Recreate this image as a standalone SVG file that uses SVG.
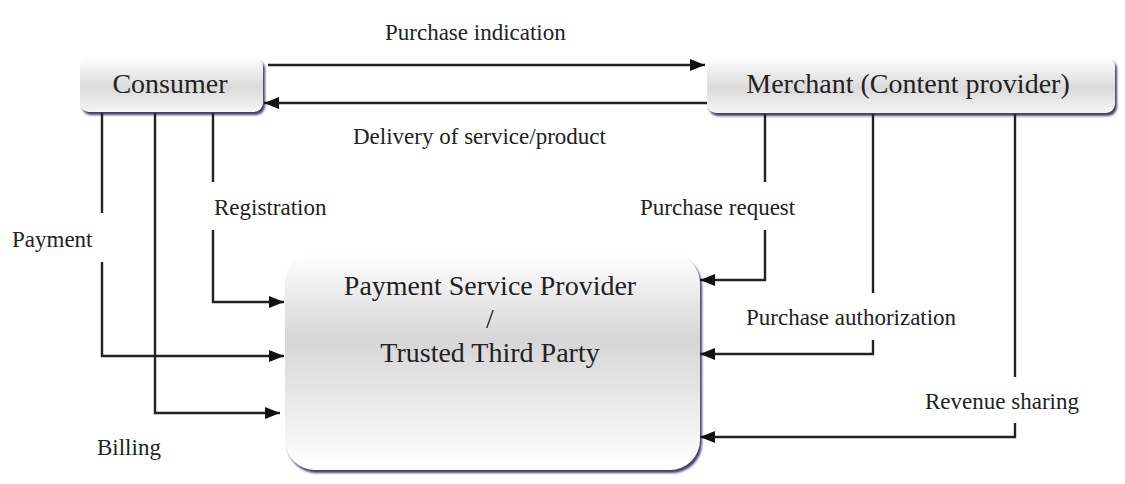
<svg xmlns="http://www.w3.org/2000/svg" width="1125" height="484" viewBox="0 0 1125 484">
  <defs>
    <linearGradient id="boxFill" x1="0" y1="0" x2="0" y2="1">
      <stop offset="0" stop-color="#ffffff"/>
      <stop offset="0.55" stop-color="#dadada"/>
      <stop offset="1" stop-color="#f6f6f6"/>
    </linearGradient>
    <linearGradient id="pspFill" x1="0" y1="0" x2="0" y2="1">
      <stop offset="0" stop-color="#ffffff"/>
      <stop offset="0.4" stop-color="#d6d6d6"/>
      <stop offset="0.75" stop-color="#eeeeee"/>
      <stop offset="1" stop-color="#ffffff"/>
    </linearGradient>
    <filter id="soft" x="-5%" y="-5%" width="110%" height="120%">
      <feGaussianBlur stdDeviation="0.8"/>
    </filter>
    <marker id="arrow" viewBox="0 0 15 12" refX="15" refY="6" markerWidth="15" markerHeight="12" markerUnits="userSpaceOnUse" orient="auto">
      <path d="M0,0 L15,6 L0,12 z" fill="#111"/>
    </marker>
  </defs>
  <style>
    text { font-family: "Liberation Serif", "Times New Roman", serif; fill: #222; }
    .node { font-size: 28px; text-anchor: middle; }
    .lbl { font-size: 23px; }
    .conn { fill: none; stroke: #222; stroke-width: 2.4; }
    .shadow { fill: #4a3d6a; filter: url(#soft); }
  </style>

  <rect width="1125" height="484" fill="#ffffff"/>

  <!-- Consumer -->
  <g id="consumer">
    <rect class="shadow" x="82" y="60" width="183" height="55" rx="9"/>
    <rect x="80" y="57" width="183" height="55" rx="9" fill="url(#boxFill)"/>
    <text class="node" x="170" y="93">Consumer</text>
  </g>

  <!-- Merchant -->
  <g id="merchant">
    <rect class="shadow" x="709" y="60" width="408" height="56" rx="9"/>
    <rect x="707" y="57" width="408" height="56" rx="9" fill="url(#boxFill)"/>
    <text class="node" x="908" y="93">Merchant (Content provider)</text>
  </g>

  <!-- Payment Service Provider -->
  <g id="psp">
    <rect class="shadow" x="287" y="256" width="415" height="217" rx="30"/>
    <rect x="285" y="253" width="415" height="217" rx="30" fill="url(#pspFill)"/>
    <text class="node" x="490" y="295">Payment Service Provider</text>
    <text class="node" x="490" y="328">/</text>
    <text class="node" x="490" y="362">Trusted Third Party</text>
  </g>

  <!-- Connectors -->
  <g id="connectors">
    <path class="conn" d="M268,65 H705" marker-end="url(#arrow)"/>
    <path class="conn" d="M707,103 H264" marker-end="url(#arrow)"/>

    <path class="conn" d="M102,113 V213"/>
    <path class="conn" d="M102,262 V356 H284" marker-end="url(#arrow)"/>
    <path class="conn" d="M155,113 V413 H280" marker-end="url(#arrow)"/>
    <path class="conn" d="M213,113 V182"/>
    <path class="conn" d="M213,230 V302 H284" marker-end="url(#arrow)"/>

    <path class="conn" d="M765,114 V182"/>
    <path class="conn" d="M765,230 V280 H700" marker-end="url(#arrow)"/>
    <path class="conn" d="M873,114 V293"/>
    <path class="conn" d="M873,340 V354 H700" marker-end="url(#arrow)"/>
    <path class="conn" d="M1015,114 V377"/>
    <path class="conn" d="M1015,423 V437 H700" marker-end="url(#arrow)"/>
  </g>

  <!-- Connector labels -->
  <g id="labels">
    <text class="lbl" x="385" y="40">Purchase indication</text>
    <text class="lbl" x="353" y="144">Delivery of service/product</text>
    <text class="lbl" x="214" y="215">Registration</text>
    <text class="lbl" x="12" y="247">Payment</text>
    <text class="lbl" x="97" y="455">Billing</text>
    <text class="lbl" x="640" y="215">Purchase request</text>
    <text class="lbl" x="746" y="325">Purchase authorization</text>
    <text class="lbl" x="925" y="409">Revenue sharing</text>
  </g>
</svg>
